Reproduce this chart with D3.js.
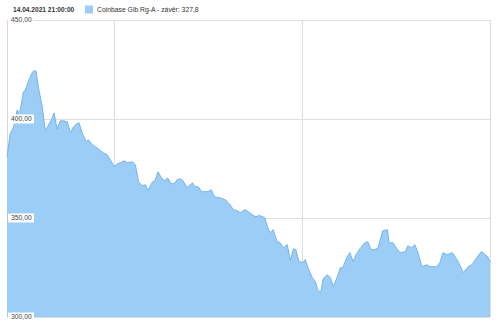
<!DOCTYPE html>
<html>
<head>
<meta charset="utf-8">
<script src="https://cdn.jsdelivr.net/npm/d3@7"></script>
<style>
  body { margin: 0; background: #fff; }
  svg { display: block; font-family: "Liberation Sans", Arial, sans-serif; }
</style>
</head>
<body>
<div id="chart"></div>
<script>
// hours since 14.04.2021 00:00 (approx.)
const hours = [10.3, 10.7, 11.1, 11.4, 11.6, 11.7, 12.0, 12.4, 12.6, 13.0, 13.5, 13.7, 14.0, 14.3, 14.8, 15.2,
  15.6, 16.1, 16.3, 16.7, 17.1, 17.5, 18.0, 18.4, 18.8, 19.2, 19.5, 19.9, 20.4, 20.7, 21.2, 21.8,
  22.6, 23.1, 23.5, 24.0, 24.4, 24.8, 25.2, 25.7, 26.3, 26.7, 27.1, 27.6, 28.0, 28.3, 28.9, 29.2,
  29.6, 30.1, 30.5, 30.8, 31.3, 31.7, 32.0, 32.4, 32.8, 33.3, 34.0, 34.3, 34.7, 35.2, 36.0, 36.4,
  36.8, 37.5, 38.2, 38.8, 39.2, 39.7, 40.1, 40.7, 41.1, 42.0, 42.6, 43.2, 43.7, 44.0, 44.3, 44.8,
  45.2, 45.6, 46.1, 46.5, 46.9, 47.2, 47.6, 48.1, 48.4, 48.8, 49.3, 49.7, 50.0, 50.4, 50.7, 51.2,
  51.6, 52.0, 52.5, 52.9, 53.2, 53.7, 54.1, 54.5, 54.9, 55.4, 56.0, 56.4, 56.8, 57.3, 57.7, 58.1,
  58.3, 58.9, 59.1, 59.6, 60.1, 60.5, 61.2, 61.5, 62.0, 62.4, 62.8, 63.3, 64.0, 64.3, 65.2, 65.6,
  66.0, 66.5, 67.2, 67.7, 68.0, 68.6, 69.2, 69.7, 70.3, 70.9, 71.4, 71.7, 72.0];

const closes = [380.9, 392.5, 395.5, 400.1, 404.6, 403.1, 404.6, 413.7, 414.2, 418.7, 423.3, 424.3, 424.3, 416.2, 406.1, 394.0,
  397.0, 400.6, 403.1, 395.0, 399.1, 399.1, 398.6, 393.0, 396.0, 397.6, 398.1, 393.0, 388.5, 389.5, 387.0, 385.4,
  382.9, 381.9, 379.4, 375.9, 377.4, 377.9, 378.9, 377.9, 378.4, 376.9, 368.3, 366.3, 366.8, 363.8, 368.3, 368.8,
  373.3, 369.8, 368.8, 370.3, 367.3, 367.3, 369.3, 369.8, 368.8, 365.3, 367.8, 365.8, 365.8, 363.3, 363.3, 364.3,
  360.7, 360.2, 359.2, 356.7, 354.2, 353.7, 352.7, 354.2, 353.2, 350.7, 351.2, 350.2, 344.1, 342.6, 344.1, 338.0,
  337.5, 335.0, 336.5, 328.5, 334.5, 334.0, 328.0, 327.5, 329.0, 324.4, 319.9, 317.9, 313.3, 312.8, 319.4, 321.4,
  319.9, 315.4, 320.4, 324.9, 324.9, 330.0, 332.5, 328.0, 331.5, 334.5, 337.5, 338.0, 334.0, 334.0, 335.0, 340.6,
  343.6, 344.1, 337.5, 337.5, 334.5, 332.5, 333.0, 336.0, 335.0, 336.5, 332.5, 325.4, 326.4, 325.4, 325.4, 327.5,
  332.5, 331.5, 332.5, 329.5, 327.5, 322.4, 325.4, 326.4, 330.0, 333.0, 331.5, 330.5, 327.8];

const yTicks = [300, 350, 400, 450];
const xGrid = [24, 48, 72];
const headerDate = "14.04.2021 21:00:00";
const seriesName = "Coinbase Glb Rg-A - závěr: 327,8";

const width = 500, height = 326;
const margin = { top: 20, right: 10, bottom: 9, left: 7 };

const data = hours.map((h, i) => ({ h, v: closes[i] }));

const x = d3.scaleLinear()
  .domain([hours[0], 72])
  .range([margin.left, width - margin.right]);

const y = d3.scaleLinear()
  .domain([300, 450])
  .range([height - margin.bottom, margin.top]);

const svg = d3.select("#chart").append("svg")
  .attr("width", width)
  .attr("height", height);

// grid
svg.append("g").selectAll("line")
  .data(yTicks)
  .join("line")
  .attr("x1", x.range()[0]).attr("x2", x.range()[1])
  .attr("y1", d => y(d) + 0.5).attr("y2", d => y(d) + 0.5)
  .attr("stroke", "#dedede");

svg.append("g").selectAll("line")
  .data(xGrid)
  .join("line")
  .attr("x1", d => Math.round(x(d)) + 0.5).attr("x2", d => Math.round(x(d)) + 0.5)
  .attr("y1", y(450)).attr("y2", y(300))
  .attr("stroke", "#dedede");

// left border
svg.append("line")
  .attr("x1", x.range()[0] + 0.5).attr("x2", x.range()[0] + 0.5)
  .attr("y1", y(450)).attr("y2", y(300))
  .attr("stroke", "#d8d8d8");

// area
const area = d3.area()
  .x(d => x(d.h))
  .y0(y(300))
  .y1(d => y(d.v));

const line = d3.line()
  .x(d => x(d.h))
  .y(d => y(d.v));

svg.append("path")
  .datum(data)
  .attr("d", area)
  .attr("fill", "#9ccdf7");

svg.append("path")
  .datum(data)
  .attr("d", line)
  .attr("fill", "none")
  .attr("stroke", "#74b4ec")
  .attr("stroke-width", 1);

// y labels with white boxes
const fmt = d => d3.format(".2f")(d).replace(".", ",");
const lab = svg.append("g").selectAll("g")
  .data(yTicks)
  .join("g")
  .attr("transform", d => `translate(${margin.left + 1},${y(d)})`);

lab.append("rect")
  .attr("x", 0).attr("y", -4.5)
  .attr("width", 26).attr("height", 9)
  .attr("fill", "#fff");

lab.append("text")
  .attr("x", 3).attr("y", 2.4)
  .attr("font-size", 6.8)
  .attr("fill", "#444")
  .text(fmt);

// header
svg.append("text")
  .attr("x", 13).attr("y", 12)
  .attr("font-size", 6.6)
  .attr("font-weight", "bold")
  .attr("fill", "#333")
  .text(headerDate);

svg.append("rect")
  .attr("x", 85).attr("y", 5.5)
  .attr("width", 8).attr("height", 8)
  .attr("fill", "#9ccdf7");

svg.append("text")
  .attr("x", 97).attr("y", 12)
  .attr("font-size", 6.8)
  .attr("fill", "#333")
  .text(seriesName);
</script>
</body>
</html>
